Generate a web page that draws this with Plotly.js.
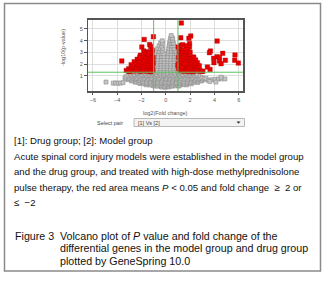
<!DOCTYPE html>
<html>
<head>
<meta charset="utf-8">
<script src="https://cdn.plot.ly/plotly-3.0.1.min.js"></script>
<style>html,body{margin:0;padding:0;background:#fff;}#chart{width:329px;height:281px;}</style>
</head>
<body>
<div id="chart"></div>
<script>
// gray = not significant genes [log2 fold change, -log10 p]
const grayPoints = [
[-0.35,0.04],[-0.05,0.02],[0.25,0.05],
[-1.0,0.13],[-0.72,0.11],[-0.41,0.14],[-0.12,0.1],[0.18,0.13],[0.49,0.11],[0.78,0.14],[1.08,0.12],
[-1.62,0.23],[-1.31,0.21],[-1.02,0.24],[-0.69,0.2],[-0.38,0.23],[-0.09,0.22],[0.21,0.24],[0.52,0.2],[0.81,0.23],[1.12,0.21],[1.43,0.24],[1.71,0.22],
[-2.12,0.34],[-1.83,0.32],[-1.51,0.35],[-1.22,0.31],[-0.88,0.34],[-0.61,0.33],[-0.29,0.35],[0.02,0.31],[0.31,0.34],[0.62,0.32],[0.91,0.35],[1.19,0.33],[1.52,0.31],[1.79,0.34],[2.11,0.32],
[-2.52,0.45],[-2.21,0.43],[-1.92,0.46],[-1.61,0.42],[-1.29,0.45],[-0.98,0.44],[-0.71,0.46],[-0.39,0.43],[-0.11,0.45],[0.19,0.42],[0.51,0.46],[0.79,0.44],[1.11,0.43],[1.39,0.46],[1.72,0.44],[2.01,0.42],[2.29,0.45],[2.61,0.43],
[-2.81,0.56],[-2.49,0.54],[-2.18,0.57],[-1.88,0.53],[-1.58,0.56],[-1.27,0.55],[-0.96,0.57],[-0.66,0.54],[-0.35,0.56],[-0.04,0.53],[0.27,0.57],[0.56,0.55],[0.87,0.54],[1.18,0.57],[1.47,0.53],[1.78,0.56],[2.08,0.55],[2.38,0.57],[2.68,0.54],[2.93,0.56],
[-3.12,0.67],[-2.82,0.65],[-2.51,0.68],[-2.2,0.64],[-1.9,0.67],[-1.59,0.66],[-1.28,0.68],[-0.97,0.65],[-0.67,0.67],[-0.36,0.64],[-0.06,0.68],[0.24,0.66],[0.55,0.65],[0.86,0.68],[1.16,0.64],[1.46,0.67],[1.77,0.66],[2.07,0.68],[2.37,0.65],[2.67,0.67],[2.96,0.64],[3.22,0.66],
[-3.36,0.79],[-3.05,0.77],[-2.74,0.8],[-2.43,0.76],[-2.13,0.79],[-1.82,0.78],[-1.51,0.8],[-1.21,0.77],[-0.9,0.79],[-0.6,0.76],[-0.29,0.8],[0.01,0.78],[0.32,0.77],[0.62,0.8],[0.93,0.76],[1.23,0.79],[1.53,0.78],[1.84,0.8],[2.14,0.77],[2.44,0.79],[2.75,0.76],[3.05,0.8],[3.31,0.78],
[-3.28,0.91],[-2.97,0.89],[-2.66,0.92],[-2.36,0.88],[-2.05,0.91],[-1.75,0.9],[-1.44,0.92],[-1.13,0.89],[-0.83,0.91],[-0.52,0.88],[-0.22,0.92],[0.09,0.9],[0.39,0.89],[0.7,0.92],[1.0,0.88],[1.31,0.91],[1.61,0.9],[1.92,0.92],[2.22,0.89],[2.52,0.91],[2.86,0.88],
[-3.1,1.03],[-2.79,1.01],[-2.48,1.04],[-2.18,1.0],[-1.87,1.03],[-1.57,1.02],[-1.26,1.04],[-0.95,1.01],[-0.65,1.03],[-0.34,1.0],[-0.04,1.04],[0.27,1.02],[0.57,1.01],[0.88,1.04],[1.18,1.0],[1.49,1.03],[1.79,1.02],[2.1,1.04],[2.4,1.01],[2.68,1.03],
[-2.92,1.15],[-2.6,1.13],[-2.3,1.16],[-1.99,1.12],[-1.69,1.15],[-1.38,1.14],[-1.07,1.16],[-0.77,1.13],[-0.46,1.15],[-0.16,1.12],[0.15,1.16],[0.45,1.14],[0.76,1.13],[1.06,1.16],[1.37,1.12],[1.67,1.15],[1.98,1.14],[2.27,1.16],[2.52,1.13],
[-2.62,1.26],[-2.31,1.24],[-2.01,1.27],[-1.7,1.23],[-1.39,1.26],[-1.09,1.25],[-0.78,1.27],[-0.48,1.24],[-0.17,1.26],[0.13,1.23],[0.44,1.27],[0.74,1.25],[1.05,1.24],[1.35,1.27],[1.66,1.23],[1.96,1.26],[2.28,1.25],
[-0.95,1.41],[-0.68,1.39],[-0.41,1.42],[-0.14,1.4],[0.13,1.41],[0.4,1.39],[0.67,1.42],[0.94,1.4],
[-0.97,1.61],[-0.7,1.59],[-0.43,1.62],[-0.16,1.6],[0.11,1.61],[0.38,1.59],[0.65,1.62],[0.92,1.6],
[-0.94,1.81],[-0.66,1.79],[-0.39,1.82],[-0.12,1.8],[0.15,1.81],[0.42,1.79],[0.69,1.82],[0.96,1.8],
[-0.96,2.01],[-0.69,1.99],[-0.42,2.02],[-0.15,2.0],[0.12,2.01],[0.39,1.99],[0.66,2.02],[0.93,2.0],
[-0.93,2.21],[-0.66,2.19],[-0.39,2.22],[-0.13,2.2],[0.16,2.21],[0.43,2.19],[0.7,2.22],[0.95,2.2],
[-0.92,2.43],[-0.65,2.41],[-0.38,2.44],[-0.14,2.42],[0.14,2.43],[0.41,2.41],[0.68,2.44],[0.93,2.42],
[-0.88,2.66],[-0.61,2.64],[-0.35,2.67],[-0.15,2.65],[0.17,2.66],[0.43,2.64],[0.69,2.67],[0.92,2.65],
[-0.85,2.89],[-0.59,2.87],[-0.34,2.9],[-0.16,2.88],[0.19,2.89],[0.44,2.87],[0.68,2.9],[0.88,2.88],
[-0.78,3.11],[-0.53,3.09],[-0.3,3.12],[0.22,3.11],[0.46,3.09],[0.7,3.12],[0.86,3.1],
[-0.66,3.33],[-0.45,3.31],[-0.26,3.34],[0.25,3.33],[0.47,3.31],[0.68,3.34],
[-0.55,3.56],[-0.34,3.54],[0.28,3.56],[0.49,3.54],[0.66,3.57],
[-0.42,3.79],[-0.27,3.77],[0.32,3.79],[0.5,3.77],[0.62,3.8],
[-0.3,3.98],[0.36,4.01],[0.55,4.02],
[0.4,4.23],[0.56,4.2],
[0.45,4.43],
[-4.92,0.46],[-4.32,0.37],[-4.12,0.39],[-3.92,0.36],[-3.72,0.38],[-3.52,0.41],
[3.52,0.62],[3.78,0.66],[4.05,0.69],[4.32,0.72],[4.58,0.74],[4.86,0.73],[4.55,0.88],[4.12,0.46],[3.62,0.52]
];
// red = P < 0.05 and |fold change| >= 2
const redPoints = [
[-1.02,4.33],[-1.78,4.1],[-1.33,3.67],[-1.97,3.45],[-1.25,3.5],[-1.81,3.11],[-1.56,3.0],[-1.12,3.2],[-1.4,3.05],[-1.7,2.85],
[-1.15,2.9],[-2.1,2.75],[-1.5,2.7],[-1.9,2.6],[-1.25,2.65],[-1.05,2.55],[-3.62,2.26],[-2.35,2.4],[-1.65,2.45],[-1.4,2.4],
[-2.05,2.35],[-1.15,2.3],[-2.6,2.2],[-1.8,2.2],[-1.5,2.15],[-2.25,2.1],[-1.25,2.05],[-1.05,2.1],[-2.85,1.95],[-2.45,1.95],
[-1.95,1.95],[-1.65,1.9],[-1.35,1.85],[-1.1,1.88],[-2.7,1.78],[-2.2,1.8],[-1.85,1.72],[-1.5,1.7],[-1.2,1.65],[-3.05,1.6],
[-2.55,1.62],[-2.3,1.58],[-2.0,1.55],[-1.7,1.52],[-1.35,1.5],[-1.08,1.48],[-3.25,1.45],[-2.85,1.45],[-2.6,1.4],[-2.15,1.38],
[-1.9,1.4],[-1.55,1.38],[-1.25,1.35],[-3.0,1.35],[-2.4,1.5],[-1.4,2.95],[-2.15,2.55],
[1.28,5.5],[2.05,4.39],[1.9,4.2],[1.23,4.25],[4.22,3.96],[1.95,3.75],[1.4,3.64],[1.68,3.55],[1.95,3.45],[3.67,3.11],
[3.59,2.97],[4.68,2.91],[5.69,2.77],[4.22,2.63],[4.41,2.55],[3.94,2.49],[4.9,2.32],[5.67,2.32],[4.41,2.26],[3.96,2.12],
[4.55,2.03],[5.97,2.08],[3.42,1.74],[3.64,1.54],[3.05,1.39],
[1.15,3.3],[1.45,3.2],[1.8,3.25],[1.1,3.0],[1.35,2.95],[1.7,2.9],[2.0,3.0],[1.2,2.75],[1.55,2.7],[1.9,2.65],
[2.25,2.6],[1.05,2.55],[1.35,2.5],[1.7,2.45],[2.05,2.4],[2.45,2.35],[1.15,2.3],[1.5,2.25],[1.85,2.2],[2.2,2.15],
[2.6,2.1],[1.05,2.05],[1.35,2.0],[1.7,1.98],[2.05,1.92],[2.4,1.9],[2.75,1.85],[1.2,1.8],[1.55,1.75],[1.9,1.72],
[2.25,1.7],[2.6,1.65],[1.05,1.6],[1.4,1.55],[1.75,1.52],[2.1,1.5],[2.45,1.48],[2.8,1.45],[1.15,1.42],[1.5,1.38],
[1.85,1.36],[2.2,1.35],[2.55,1.4],[2.95,1.37],[1.3,1.7],[2.0,1.6],[1.6,2.05],[1.0,1.9],[2.3,2.55],[1.25,3.6],[1.02,3.45]
];
const xTicks = [-6,-4,-2,0,2,4,6];
const yTicks = [1,2,3,4,5];
const foldCut = [-1, 1];
const pCut = 1.301;
const xTitle = 'log2(Fold change)';
const yTitle = '-log10(p-value)';
const selectLabel = 'Select pair';
const selectValue = '[1] Vs [2]';
const bodyLines = [
  '[1]: Drug group; [2]: Model group',
  'Acute spinal cord injury models were established in the model group',
  'and the drug group, and treated with high-dose methylprednisolone',
  'pulse therapy, the red area means <i>P</i> &lt; 0.05 and fold change  ≥  2 or',
  '≤  −2'
];
const captionLabel = 'Figure 3';
const captionLines = [
  'Volcano plot of <i>P</i> value and fold change of the',
  'differential genes in the model group and drug group',
  'plotted by GeneSpring 10.0'
];

const W = 329, H = 281;
const px = v => v / W, py = v => 1 - v / H;
const FONT = 'Liberation Sans, Arial, sans-serif';

const traces = [
  {type:'scatter', mode:'markers', x: grayPoints.map(p=>p[0]), y: grayPoints.map(p=>p[1]),
   marker:{symbol:'square', size:4, color:'#c4c4c4', line:{color:'#8c8c8c', width:0.6}}, hoverinfo:'skip'},
  {type:'scatter', mode:'markers', x: redPoints.map(p=>p[0]), y: redPoints.map(p=>p[1]),
   marker:{symbol:'square', size:4.5, color:'#e80000', line:{color:'#b00000', width:0.4}}, hoverinfo:'skip'}
];

const shapes = [
  {type:'rect', xref:'paper', yref:'paper', x0:px(4.5), x1:px(320.5), y0:py(271), y1:py(3.5), line:{color:'#8a8a8a', width:1.5}},
  {type:'line', xref:'x', yref:'y domain', x0:foldCut[0], x1:foldCut[0], y0:0, y1:1, line:{color:'#5fc25f', width:1}, layer:'above'},
  {type:'line', xref:'x', yref:'y domain', x0:foldCut[1], x1:foldCut[1], y0:0, y1:1, line:{color:'#5fc25f', width:1}, layer:'above'},
  {type:'line', xref:'x domain', yref:'y', x0:0, x1:1, y0:pCut, y1:pCut, line:{color:'#5fc25f', width:1}, layer:'above'},
  {type:'rect', xref:'paper', yref:'paper', x0:px(134), x1:px(244.5), y0:py(126.5), y1:py(118.5), line:{color:'#a8a8a8', width:0.8}, fillcolor:'#f3f3f3'},
  {type:'path', xref:'paper', yref:'paper', path:`M ${px(236.5)} ${py(121.5)} L ${px(240.5)} ${py(121.5)} L ${px(238.5)} ${py(123.8)} Z`, fillcolor:'#333', line:{width:0}}
];

const annotations = [
  {xref:'paper', yref:'paper', x:px(165.5), y:py(112.5), text:xTitle, showarrow:false, xanchor:'center', yanchor:'middle', font:{family:FONT, size:5.5, color:'#555'}},
  {xref:'paper', yref:'paper', x:px(63), y:py(48), text:yTitle, textangle:-90, showarrow:false, xanchor:'center', yanchor:'middle', font:{family:FONT, size:5.5, color:'#555'}},
  {xref:'paper', yref:'paper', x:px(124.5), y:py(122.5), text:selectLabel, showarrow:false, xanchor:'right', yanchor:'middle', font:{family:FONT, size:5.5, color:'#444'}},
  {xref:'paper', yref:'paper', x:px(136), y:py(122.5), text:selectValue, showarrow:false, xanchor:'left', yanchor:'middle', font:{family:FONT, size:5.5, color:'#444'}}
];
const bodyY = [140.5, 156, 171.5, 187, 202.5];
bodyLines.forEach((t,i)=>annotations.push({xref:'paper', yref:'paper', x:px(12), y:py(bodyY[i]), text:t, showarrow:false, xanchor:'left', yanchor:'middle', font:{family:FONT, size:9.6, color:'#111'}}));
annotations.push({xref:'paper', yref:'paper', x:px(12.5), y:py(236), text:captionLabel, showarrow:false, xanchor:'left', yanchor:'middle', font:{family:FONT, size:10.7, color:'#111'}});
const capY = [236, 248.3, 260.6];
captionLines.forEach((t,i)=>annotations.push({xref:'paper', yref:'paper', x:px(58), y:py(capY[i]), text:t, showarrow:false, xanchor:'left', yanchor:'middle', font:{family:FONT, size:10.7, color:'#111'}}));

const axisCommon = {ticks:'outside', ticklen:2.5, tickwidth:1, tickcolor:'#555', showgrid:true, gridcolor:'#dedede', gridwidth:1,
  zeroline:false, showline:true, mirror:true, linecolor:'#555', linewidth:1.5, tickfont:{family:FONT, size:5.5, color:'#555'}, fixedrange:true};

const layout = {
  width:W, height:H, margin:{l:0,r:0,t:0,b:0,pad:0}, paper_bgcolor:'#fff', plot_bgcolor:'#fff', showlegend:false,
  xaxis:Object.assign({}, axisCommon, {domain:[px(88), px(243)], range:[-6.4, 6.35], tickvals:xTicks}),
  yaxis:Object.assign({}, axisCommon, {domain:[py(91), py(19.5)], range:[-0.3, 5.8], tickvals:yTicks}),
  shapes:shapes, annotations:annotations
};
Plotly.newPlot('chart', traces, layout, {displayModeBar:false, staticPlot:true});
</script>
</body>
</html>
